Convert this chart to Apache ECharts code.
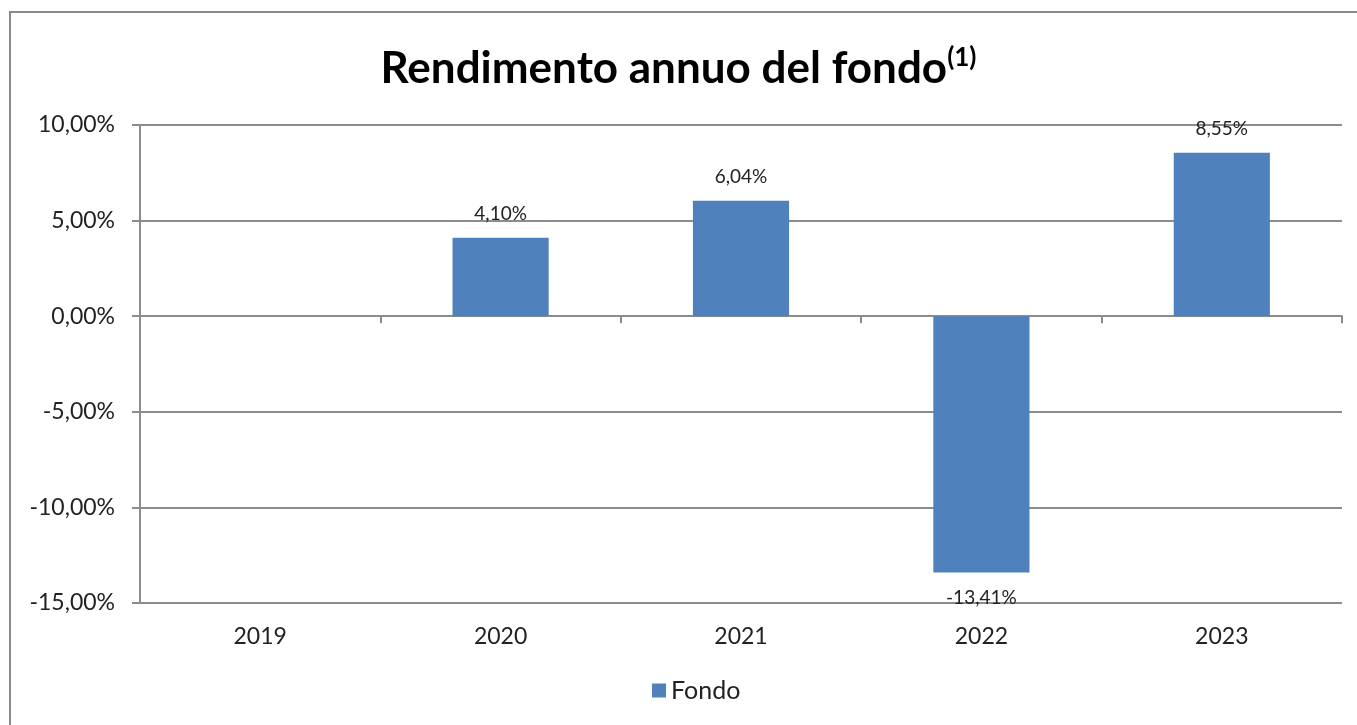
<!DOCTYPE html>
<html style="height: 100%">
<head>
<meta charset="utf-8">
<script src="https://cdn.jsdelivr.net/npm/echarts@6/dist/echarts.min.js"></script>
</head>
<body style="height: 100%; margin: 0; background-color: #ffffff">
<div id="frame" style="position:absolute; left:9px; top:11px; right:-10px; bottom:-10px; border-left:2px solid #8a8a8a; border-top:2px solid #8a8a8a;"></div>
<div id="container" style="position:absolute; left:0; top:0; width:1357px; height:725px;"></div>
<script type="text/javascript">
// dati
var anni = ['2019', '2020', '2021', '2022', '2023'];
var fondo = ['-', 4.10, 6.04, -13.41, 8.55];
var yTicks = [-15, -10, -5, 0, 5, 10];

function pct(v) {
    return v.toFixed(2).replace('.', ',') + '%';
}

var chart = echarts.init(document.getElementById('container'));
var font = 'Lato, "Open Sans", sans-serif';
var grigio = '#8c8c8c';

var option = {
    animation: false,
    title: {
        text: '{t|Rendimento annuo del fondo}{s|(1)}',
        left: 'center',
        top: 40,
        textStyle: {
            rich: {
                t: { fontFamily: font, fontWeight: 'bold', fontSize: 44, color: '#000' },
                s: { fontFamily: font, fontWeight: 'bold', fontSize: 26, color: '#000', verticalAlign: 'top', padding: [0, 0, 22, 0] }
            }
        }
    },
    legend: {
        data: ['Fondo'],
        bottom: 17,
        left: 647,
        icon: 'rect',
        itemWidth: 14,
        itemHeight: 14,
        itemGap: 7,
        textStyle: { fontFamily: font, fontSize: 25, color: '#222' }
    },
    grid: {
        left: 140,
        right: 15,
        top: 125,
        bottom: 122
    },
    xAxis: [
        {
            type: 'category',
            data: anni,
            axisLine: { onZero: true, lineStyle: { color: grigio, width: 2 } },
            axisTick: { show: true, length: 7, lineStyle: { color: grigio, width: 2 } },
            axisLabel: { show: false }
        },
        {
            type: 'category',
            data: anni,
            position: 'bottom',
            axisLine: { show: false, onZero: false },
            axisTick: { show: false },
            axisLabel: { fontFamily: font, fontSize: 23, color: '#222', margin: 22 }
        }
    ],
    yAxis: {
        type: 'value',
        min: yTicks[0],
        max: yTicks[yTicks.length - 1],
        interval: 5,
        axisLine: { show: true, lineStyle: { color: grigio, width: 2 } },
        axisTick: { show: true, length: 8, lineStyle: { color: grigio, width: 2 } },
        splitLine: { show: true, lineStyle: { color: grigio, width: 2 } },
        axisLabel: {
            fontFamily: font, fontSize: 23, color: '#222', margin: 25,
            formatter: function (v) { return pct(v); }
        }
    },
    series: [
        {
            name: 'Fondo',
            type: 'bar',
            xAxisIndex: 0,
            barWidth: '40%',
            itemStyle: { color: '#4f81bd' },
            label: {
                show: true,
                position: 'top',
                distance: 14,
                fontFamily: font,
                fontSize: 19,
                color: '#222',
                formatter: function (p) { return pct(p.value); }
            },
            // etichetta sotto la barra per i valori negativi
            data: fondo.map(function (v) {
                if (v === '-') return v;
                if (v < 0) return { value: v, label: { position: 'bottom', distance: 16 } };
                return v;
            })
        }
    ]
};

chart.setOption(option);
</script>
</body>
</html>
